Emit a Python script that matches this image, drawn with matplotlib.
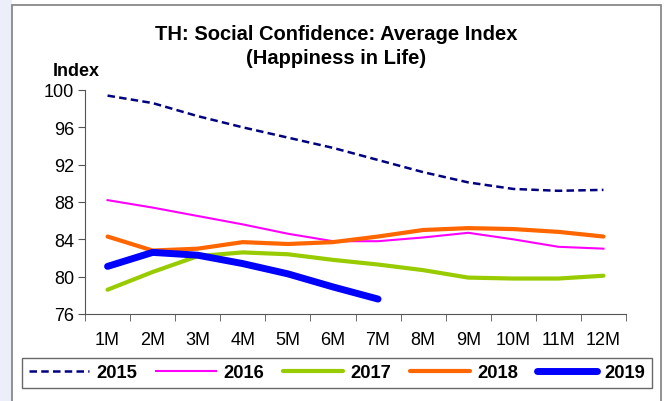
import numpy as np
import matplotlib.pyplot as plt
from matplotlib.patches import Rectangle

plt.rcParams['font.family'] = ['Liberation Sans', 'DejaVu Sans']

# data
months = ['1M', '2M', '3M', '4M', '5M', '6M', '7M', '8M', '9M', '10M', '11M', '12M']
y2015 = [99.4, 98.6, 97.2, 96.0, 94.9, 93.8, 92.5, 91.2, 90.1, 89.4, 89.2, 89.3]
y2016 = [88.2, 87.4, 86.5, 85.6, 84.6, 83.8, 83.8, 84.2, 84.7, 84.0, 83.2, 83.0]
y2017 = [78.6, 80.5, 82.2, 82.6, 82.4, 81.8, 81.3, 80.7, 79.9, 79.8, 79.8, 80.1]
y2018 = [84.3, 82.8, 83.0, 83.7, 83.5, 83.7, 84.3, 85.0, 85.2, 85.1, 84.8, 84.3]
y2019 = [81.1, 82.6, 82.3, 81.4, 80.3, 78.9, 77.6]

W, H = 667, 402
fig = plt.figure(figsize=(W / 100, H / 100), dpi=100)
fig.patch.set_facecolor('white')
# lavender strip on the left and the grey chart frame
fig.add_artist(Rectangle((0, 0), 12 / W, 1, transform=fig.transFigure,
                         facecolor='#eceef9', edgecolor='none', zorder=-2))
fig.add_artist(Rectangle((12 / W, -0.05), (661 - 12) / W, 1.05 - 6 / H, transform=fig.transFigure,
                         facecolor='white', edgecolor='#7f7f7f', lw=1.2, zorder=-1))

ax = fig.add_axes([85 / W, 1 - 315 / H, 541 / W, 224 / H])
x = np.arange(len(months))

ax.plot(x, y2015, color='#000080', lw=1.8, ls=(0, (3.0, 1.7)), label='2015')
ax.plot(x, y2016, color='#ff00ff', lw=1.5, label='2016')
ax.plot(x, y2017, color='#99cc00', lw=3, solid_capstyle='round', label='2017')
ax.plot(x, y2018, color='#ff6600', lw=3, solid_capstyle='round', label='2018')
ax.plot(x[:len(y2019)], y2019, color='#0000ff', lw=5, solid_capstyle='round', label='2019')

ax.set_xlim(-0.5, 11.5)
ax.set_ylim(76, 100)
ax.set_yticks(range(76, 101, 4))
ax.set_xticks(x)
ax.set_xticklabels(months)
ax.set_xticks(np.arange(-0.5, 12, 1), minor=True)
ax.tick_params(axis='x', which='major', length=0, pad=12, labelsize=13)
ax.tick_params(axis='x', which='minor', length=5, direction='out', color='#555555')
ax.tick_params(axis='y', length=5, direction='out', labelsize=13, pad=3, color='#555555')
for s in ['top', 'right']:
    ax.spines[s].set_visible(False)
for s in ['left', 'bottom']:
    ax.spines[s].set_color('#555555')
ax.patch.set_alpha(0)

fig.text(336 / W, 1 - 34 / H, 'TH: Social Confidence: Average Index', ha='center', va='center',
         fontsize=14.5, fontweight='bold')
fig.text(336 / W, 1 - 58 / H, '(Happiness in Life)', ha='center', va='center',
         fontsize=14.5, fontweight='bold')
fig.text(76 / W, 1 - 71 / H, 'Index', ha='center', va='center', fontsize=13, fontweight='bold')

leg = fig.legend(loc='center', bbox_to_anchor=(337 / W, 1 - 374 / H), ncol=5,
                 frameon=True, fancybox=False, edgecolor='#444444', handlelength=3.3,
                 columnspacing=1.0, handletextpad=0.4, borderpad=0.35, borderaxespad=0,
                 prop={'weight': 'bold', 'size': 13.2})
leg.get_frame().set_linewidth(1.0)

fig.savefig('out.png', dpi=100)
